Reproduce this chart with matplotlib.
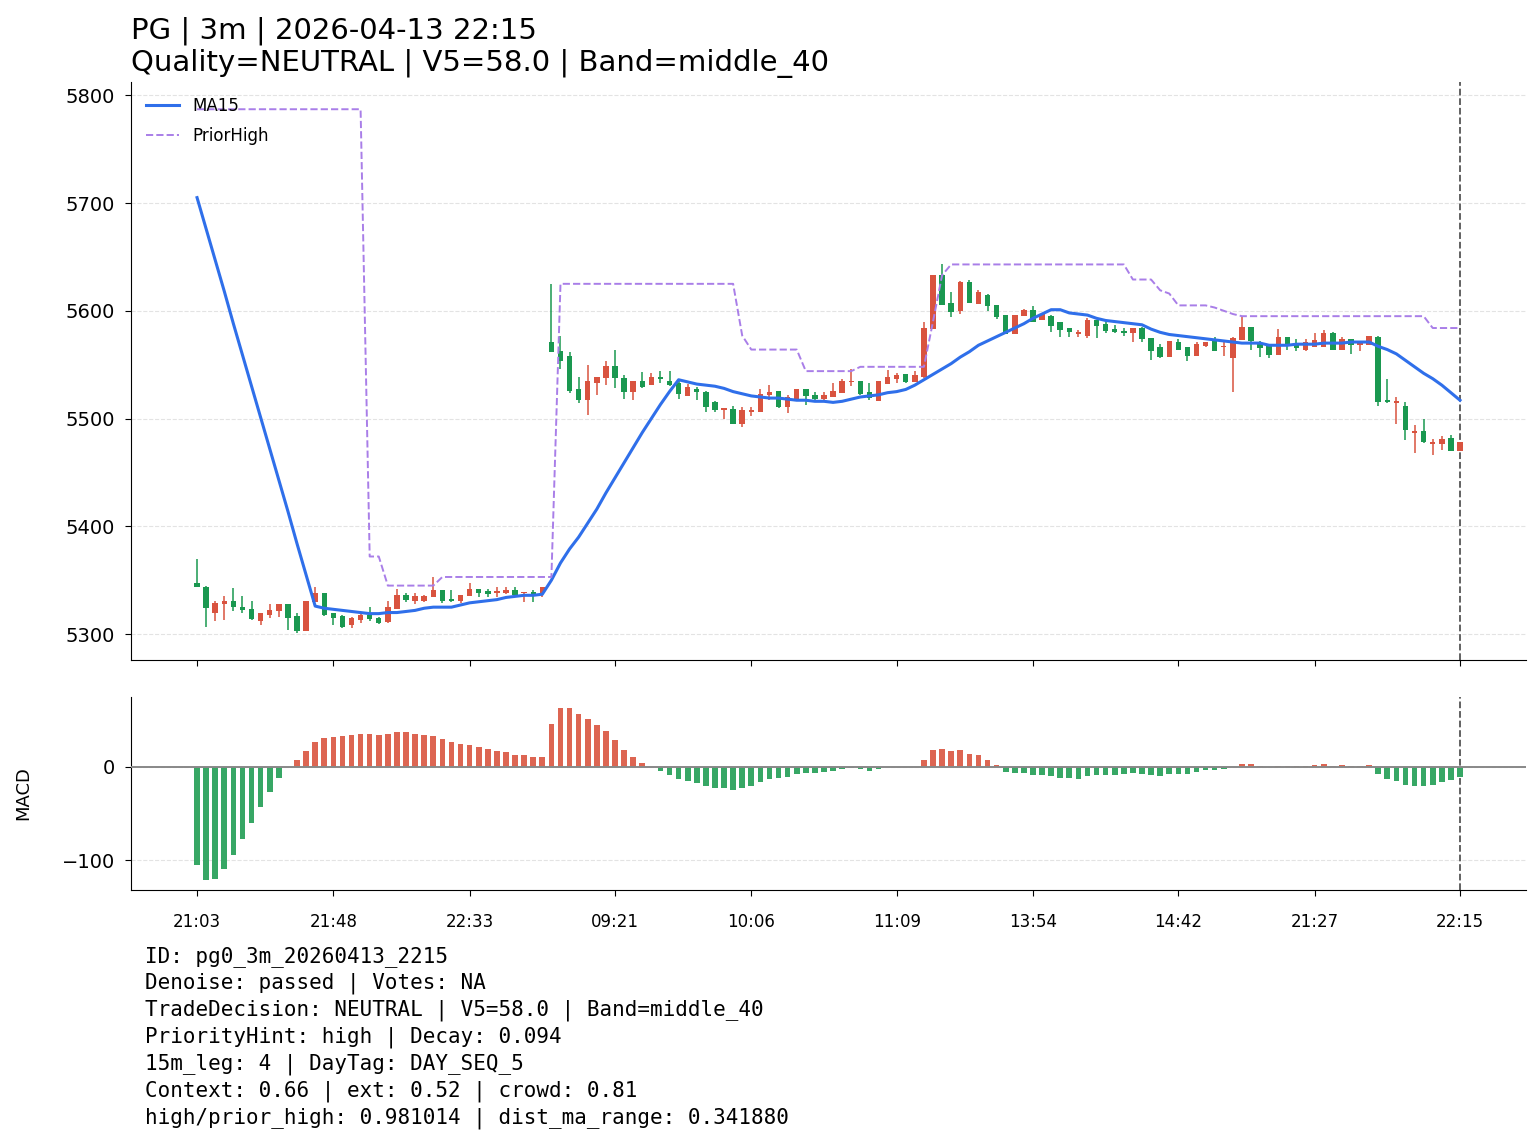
import numpy as np
import matplotlib
matplotlib.use("Agg")
import matplotlib.pyplot as plt

# 3m bars, PG
opens = [5347, 5344, 5320, 5328, 5331, 5325, 5323, 5312, 5318, 5321, 5328, 5317, 5303, 5330, 5338, 5320, 5317, 5308, 5313, 5318,
         5315, 5311, 5323, 5336, 5331, 5331, 5334, 5341, 5333, 5331, 5335, 5342, 5340, 5338, 5338, 5341, 5338, 5339, 5338, 5571,
         5563, 5558, 5527, 5517, 5533, 5538, 5549, 5538, 5525, 5535, 5531, 5539, 5535, 5533, 5521, 5527, 5525, 5515, 5508, 5509,
         5495, 5506, 5506, 5522, 5526, 5511, 5518, 5527, 5522, 5518, 5520, 5524, 5534, 5535, 5525, 5516, 5532, 5537, 5541, 5534,
         5539, 5583, 5633, 5607, 5600, 5627, 5606, 5615, 5605, 5596, 5578, 5595, 5601, 5591, 5595, 5590, 5584, 5578, 5577, 5591,
         5588, 5583, 5581, 5579, 5584, 5575, 5566, 5557, 5571, 5566, 5558, 5567, 5573, 5566, 5556, 5573, 5585, 5570, 5567, 5559,
         5576, 5570, 5564, 5566, 5566, 5579, 5564, 5574, 5568, 5568, 5576, 5517, 5514, 5512, 5487, 5488, 5476, 5476, 5482, 5470]
highs = [5370, 5345, 5331, 5335, 5343, 5335, 5331, 5320, 5328, 5328, 5328, 5320, 5331, 5344, 5338, 5320, 5318, 5316, 5319, 5325,
         5316, 5331, 5342, 5338, 5338, 5336, 5353, 5341, 5341, 5336, 5347, 5342, 5342, 5344, 5344, 5344, 5339, 5341, 5344, 5625,
         5577, 5562, 5539, 5550, 5539, 5553, 5564, 5540, 5535, 5543, 5542, 5544, 5544, 5535, 5532, 5529, 5526, 5516, 5510, 5512,
         5511, 5511, 5527, 5531, 5526, 5522, 5527, 5527, 5525, 5525, 5533, 5537, 5546, 5535, 5533, 5535, 5545, 5542, 5541, 5544,
         5590, 5633, 5643, 5617, 5628, 5629, 5619, 5616, 5605, 5596, 5596, 5602, 5604, 5598, 5596, 5590, 5584, 5582, 5593, 5591,
         5591, 5587, 5584, 5584, 5585, 5575, 5569, 5572, 5574, 5566, 5571, 5571, 5576, 5571, 5576, 5595, 5585, 5572, 5567, 5583,
         5576, 5574, 5574, 5579, 5582, 5580, 5576, 5574, 5570, 5577, 5577, 5537, 5520, 5515, 5494, 5500, 5481, 5484, 5485, 5478]
lows = [5344, 5307, 5312, 5313, 5321, 5320, 5313, 5308, 5315, 5316, 5304, 5301, 5303, 5330, 5317, 5308, 5306, 5306, 5310, 5312,
        5309, 5310, 5323, 5330, 5328, 5330, 5334, 5329, 5330, 5329, 5335, 5334, 5334, 5334, 5337, 5336, 5330, 5330, 5334, 5562,
        5546, 5524, 5514, 5503, 5522, 5531, 5528, 5518, 5517, 5528, 5531, 5533, 5530, 5518, 5521, 5517, 5506, 5506, 5500, 5495,
        5492, 5502, 5506, 5517, 5510, 5505, 5518, 5513, 5517, 5515, 5520, 5524, 5530, 5522, 5517, 5516, 5532, 5533, 5533, 5534,
        5538, 5583, 5605, 5594, 5597, 5607, 5606, 5600, 5592, 5578, 5578, 5595, 5590, 5591, 5580, 5576, 5576, 5576, 5575, 5575,
        5579, 5579, 5577, 5571, 5571, 5554, 5556, 5557, 5564, 5553, 5558, 5566, 5563, 5558, 5525, 5573, 5564, 5557, 5556, 5559,
        5564, 5563, 5563, 5566, 5566, 5564, 5564, 5560, 5563, 5568, 5512, 5514, 5495, 5480, 5468, 5477, 5466, 5471, 5470, 5470]
closes = [5344, 5324, 5329, 5331, 5325, 5322, 5314, 5320, 5322, 5328, 5315, 5303, 5331, 5338, 5318, 5315, 5307, 5315, 5318, 5314,
          5310, 5325, 5336, 5332, 5335, 5335, 5341, 5331, 5331, 5336, 5342, 5338, 5337, 5340, 5341, 5336, 5339, 5336, 5344, 5562,
          5553, 5526, 5517, 5535, 5539, 5549, 5538, 5525, 5535, 5529, 5539, 5537, 5531, 5523, 5529, 5525, 5511, 5508, 5510, 5495,
          5508, 5508, 5523, 5525, 5511, 5520, 5527, 5521, 5518, 5522, 5526, 5535, 5535, 5523, 5519, 5535, 5539, 5540, 5534, 5540,
          5584, 5633, 5605, 5599, 5627, 5607, 5617, 5604, 5594, 5578, 5596, 5601, 5590, 5597, 5586, 5582, 5580, 5580, 5591, 5586,
          5581, 5580, 5579, 5584, 5574, 5563, 5557, 5572, 5564, 5558, 5569, 5571, 5563, 5567, 5575, 5585, 5572, 5565, 5559, 5576,
          5567, 5565, 5571, 5573, 5579, 5564, 5574, 5568, 5570, 5577, 5515, 5515, 5516, 5489, 5488, 5478, 5478, 5481, 5470, 5478]

ma15 = [5705, 5676, 5647, 5618, 5588, 5559, 5530, 5501, 5472, 5443, 5414, 5384, 5355, 5326, 5324, 5323, 5322, 5321, 5320, 5319,
        5319, 5320, 5320, 5321, 5322, 5324, 5325, 5325, 5325, 5327, 5329, 5330, 5331, 5332, 5334, 5335, 5336, 5336, 5337, 5350,
        5366, 5379, 5390, 5403, 5416, 5431, 5445, 5459, 5473, 5487, 5500, 5513, 5525, 5536, 5534, 5532, 5531, 5530, 5528, 5525,
        5523, 5521, 5520, 5519, 5519, 5518, 5517, 5517, 5516, 5516, 5515, 5516, 5518, 5520, 5521, 5522, 5524, 5525, 5527, 5531,
        5536, 5541, 5546, 5551, 5557, 5562, 5568, 5572, 5576, 5580, 5584, 5588, 5593, 5597, 5601, 5601, 5598, 5597, 5596, 5593,
        5591, 5590, 5589, 5588, 5587, 5583, 5580, 5578, 5577, 5576, 5575, 5574, 5573, 5572, 5571, 5570, 5570, 5570, 5568, 5568,
        5568, 5569, 5569, 5569, 5570, 5570, 5570, 5571, 5571, 5571, 5567, 5564, 5560, 5554, 5548, 5542, 5537, 5531, 5524, 5517]

prior_high = [5787] * 19 + [5372] * 2 + [5345] * 6 + [5353] * 13 + [5625] * 20 + [5577] + [5564] * 6 + [5544] * 6 \
    + [5548] * 8 + [5590, 5633] + [5643] * 20 + [5629] * 3 + [5619, 5616] + [5605] * 4 + [5603, 5600, 5597] \
    + [5595] * 21 + [5584] * 4

macd_hist = [-104.6, -121.4, -120.4, -109.8, -94.7, -77.2, -60.4, -43.2, -26.7, -11.9, 0.0, 7.0, 17.5, 27.0, 31.2, 32.3, 33.3, 34.4, 35.4, 35.4,
             34.4, 35.4, 37.5, 37.5, 35.4, 34.4, 33.3, 30.2, 27.0, 24.9, 23.9, 21.8, 19.6, 17.5, 16.5, 13.3, 12.3, 11.2, 10.2, 46.0,
             62.8, 62.8, 56.5, 51.2, 44.9, 38.6, 29.1, 18.6, 11.2, 3.9, -0.4, -4.6, -8.8, -13.0, -15.1, -17.2, -20.4, -22.5, -22.5, -24.6,
             -22.5, -20.4, -16.1, -13.0, -11.9, -10.9, -7.7, -6.7, -6.7, -5.6, -4.6, -2.5, -0.7, -2.5, -4.6, -2.5, -0.5, -0.2, 0.0, 0.2,
             7.0, 18.6, 19.6, 17.5, 18.6, 14.4, 12.3, 7.0, 1.8, -5.6, -6.7, -6.7, -8.8, -8.8, -9.8, -11.9, -11.9, -13.0, -9.8, -8.8,
             -8.8, -8.8, -7.7, -6.7, -7.7, -8.8, -9.8, -7.7, -7.7, -7.7, -5.6, -3.5, -3.5, -2.5, -0.3, 2.8, 2.8, 0.7, 0.2, 0.7,
             0.7, 0.7, 0.7, 1.8, 2.8, 0.7, 1.8, 0.5, 0.5, 1.8, -7.7, -13.0, -15.1, -19.3, -20.4, -20.4, -19.3, -16.1, -14.0, -10.9]

tick_labels = ["21:03", "21:48", "22:33", "09:21", "10:06", "11:09", "13:54", "14:42", "21:27", "22:15"]

info_lines = [
    "ID: pg0_3m_20260413_2215",
    "Denoise: passed | Votes: NA",
    "TradeDecision: NEUTRAL | V5=58.0 | Band=middle_40",
    "PriorityHint: high | Decay: 0.094",
    "15m_leg: 4 | DayTag: DAY_SEQ_5",
    "Context: 0.66 | ext: 0.52 | crowd: 0.81",
    "high/prior_high: 0.981014 | dist_ma_range: 0.341880",
]

UP = "#d9533f"
DOWN = "#1a9850"

o = np.array(opens, dtype=float)
h = np.array(highs, dtype=float)
l = np.array(lows, dtype=float)
c = np.array(closes, dtype=float)
x = np.arange(len(c))
n = len(c)

fig = plt.figure(figsize=(15.4, 11.43), dpi=100)
ax = fig.add_axes([0.085, 0.4226, 0.906, 0.5054])
ax2 = fig.add_axes([0.085, 0.2213, 0.906, 0.1689], sharex=ax)

# candles
cols = np.where(c >= o, UP, DOWN)
ax.vlines(x, l, h, colors=cols, linewidth=1.1, zorder=2)
bottom = np.minimum(o, c)
height = np.maximum(np.abs(c - o), 0.8)
ax.bar(x, height, bottom=bottom, width=0.6, color=cols, zorder=3)

ax.plot(x, ma15, color="#2f6fea", linewidth=2.2, label="MA15", zorder=4)
ax.plot(x, prior_high, color="#a97ee8", linewidth=1.4, linestyle="--", label="PriorHigh", zorder=4)
ax.axvline(n - 1, color="#555555", linestyle="--", linewidth=1.3)

ax.set_ylim(5276, 5812)
ax.set_yticks([5300, 5400, 5500, 5600, 5700, 5800])
ax.grid(axis="y", linestyle="--", color="#e3e3e3", linewidth=0.8)
ax.set_axisbelow(True)
ax.tick_params(axis="y", labelsize=14, length=4.5, pad=7)
ax.tick_params(axis="x", labelbottom=False, length=4.5)
ax.legend(loc="upper left", frameon=False, fontsize=12, labelspacing=0.7)
for s in ["top", "right"]:
    ax.spines[s].set_visible(False)

title = "PG | 3m | 2026-04-13 22:15\nQuality=NEUTRAL | V5=58.0 | Band=middle_40"
ax.set_title(title, loc="left", fontsize=21, pad=8)

# macd histogram
mh = np.array(macd_hist)
mcols = np.where(mh >= 0, "#dd6552", "#37a765")
ax2.bar(x, mh, width=0.62, color=mcols, zorder=3)
ax2.axhline(0, color="#888888", linewidth=1.4, zorder=4)
ax2.axvline(n - 1, color="#555555", linestyle="--", linewidth=1.3)
ax2.set_ylim(-132, 75)
ax2.set_yticks([-100, 0])
ax2.grid(axis="y", linestyle="--", color="#e3e3e3", linewidth=0.8)
ax2.set_axisbelow(True)
ax2.set_ylabel("MACD", fontsize=13)
ax2.yaxis.set_label_coords(-0.0706, 0.5)
ax2.tick_params(axis="y", labelsize=14, length=4.5, pad=7)
ax2.tick_params(axis="x", labelsize=12, length=4.5, pad=12)
for s in ["top", "right"]:
    ax2.spines[s].set_visible(False)

ticks = np.linspace(0, n - 1, 10).astype(int)
ax2.set_xticks(ticks)
ax2.set_xticklabels(tick_labels)
ax2.set_xlim(-7.28, n - 1 + 7.28)

fig.text(0.094, 0.172, "\n".join(info_lines), family="DejaVu Sans Mono", fontsize=15,
         va="top", ha="left", linespacing=1.335)

fig.savefig("out.png", dpi=100)
